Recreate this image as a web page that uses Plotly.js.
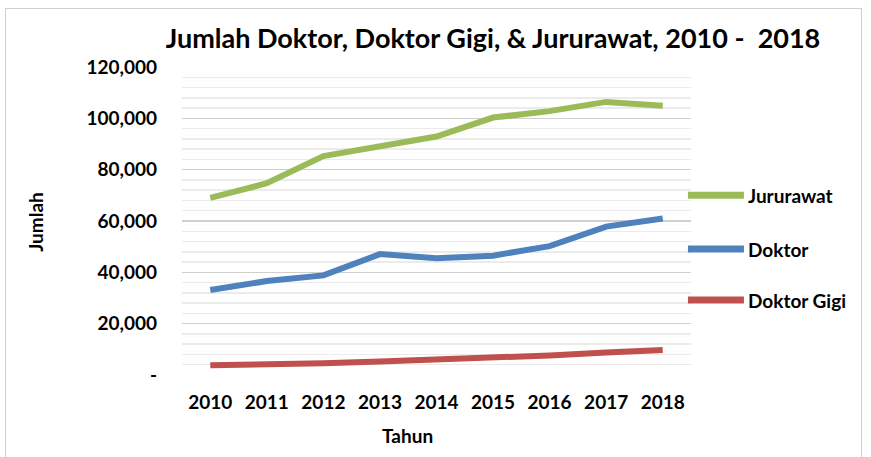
<!DOCTYPE html>
<html>
<head>
<meta charset="utf-8">
<script src="https://cdn.plot.ly/plotly-3.0.1.min.js"></script>
<style>
html,body{margin:0;padding:0;background:#fff;}
#wrap{position:relative;width:871px;height:457px;}
#frame{position:absolute;left:5px;top:8px;width:857px;height:460px;border:1px solid #d0d0d0;box-sizing:border-box;pointer-events:none;}
#chart{position:absolute;left:0;top:0;width:871px;height:457px;}
</style>
</head>
<body>
<div id="wrap"><div id="chart"></div><div id="frame"></div></div>
<script>
const years = ["2010","2011","2012","2013","2014","2015","2016","2017","2018"];
const jururawat = [69000, 74700, 85300, 89000, 92900, 100300, 102800, 106400, 104900];
const doktor = [33100, 36600, 38800, 47100, 45500, 46500, 50200, 57800, 61000];
const doktorGigi = [3800, 4100, 4600, 5300, 6000, 6700, 7600, 8800, 9700];
const yTickVals = [0, 20000, 40000, 60000, 80000, 100000, 120000];
const yTickText = ["-", "20,000", "40,000", "60,000", "80,000", "100,000", "120,000"];
const seriesNames = ["Jururawat", "Doktor", "Doktor Gigi"];
const seriesColors = ["#9BBB59", "#4F81BD", "#C0504D"];

const FONT = "Lato, 'Open Sans', sans-serif";
const FS = 19;
const seriesValues = [jururawat, doktor, doktorGigi];
const data = seriesNames.map((n, i) => ({
  x: years, y: seriesValues[i], name: n, type: "scatter", mode: "lines",
  line: {color: seriesColors[i], width: 6}, showlegend: false
}));

// legend drawn as shapes + annotations (positions in paper coords)
const legY = [0.584, 0.409, 0.2435];
const shapes = [];
const annotations = [];
seriesNames.forEach((n, i) => {
  shapes.push({type: "line", xref: "paper", yref: "paper", x0: 0.994, x1: 1.104,
    y0: legY[i], y1: legY[i], line: {color: seriesColors[i], width: 7}, layer: "above"});
  annotations.push({xref: "paper", yref: "paper", x: 1.108, y: legY[i], xanchor: "left",
    yanchor: "middle", showarrow: false, text: "<b>" + n + "</b>",
    font: {family: FONT, size: FS, color: "#000"}});
});
annotations.push({xref: "paper", yref: "paper", x: 0.444, y: -0.195, xanchor: "center",
  yanchor: "middle", showarrow: false, text: "<b>Tahun</b>", font: {family: FONT, size: FS, color: "#000"}});
annotations.push({xref: "paper", yref: "paper", x: -0.287, y: 0.497, xanchor: "center",
  yanchor: "middle", showarrow: false, textangle: -90, text: "<b>Jumlah</b>",
  font: {family: FONT, size: FS, color: "#000"}});

const layout = {
  width: 871, height: 457,
  margin: {l: 182, r: 180, t: 67, b: 82},
  paper_bgcolor: "#fff", plot_bgcolor: "#fff",
  font: {family: FONT, color: "#000", size: FS, weight: "bold"},
  title: {text: "<b>Jumlah Doktor, Doktor Gigi, & Jururawat, 2010 -  2018</b>",
    font: {family: FONT, size: 27, color: "#000"}, x: 0.566, xanchor: "center", y: 0.915, yanchor: "middle"},
  showlegend: false,
  shapes: shapes,
  annotations: annotations,
  xaxis: {type: "category", range: [-0.5, 8.5], showgrid: false, zeroline: false,
    showline: false, ticks: "", ticklabelstandoff: 14,
    tickfont: {family: FONT, size: FS, weight: "bold"}},
  yaxis: {range: [0, 120000], tickvals: yTickVals, ticktext: yTickText,
    showgrid: true, gridcolor: "#cfcfcf", gridwidth: 1.5, zeroline: false,
    showline: false, ticks: "", ticklabelstandoff: 24,
    tickfont: {family: FONT, size: FS, weight: "bold"},
    minor: {dtick: 4000, showgrid: true, gridcolor: "#ebebeb", gridwidth: 1.5}}
};
Plotly.newPlot("chart", data, layout, {displayModeBar: false, staticPlot: true});
</script>
</body>
</html>
